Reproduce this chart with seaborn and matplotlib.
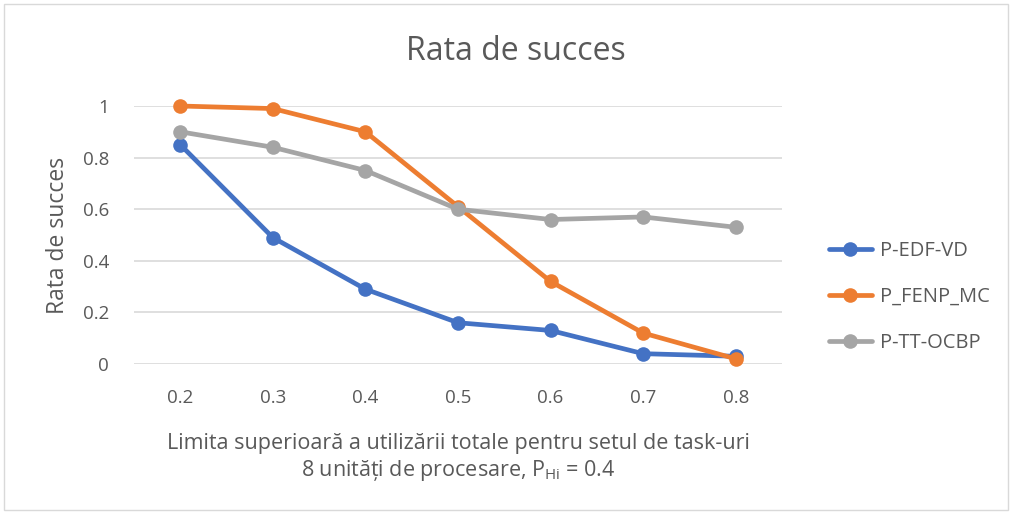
import matplotlib
matplotlib.use("Agg")
import matplotlib.pyplot as plt
import seaborn as sns
import pandas as pd
from matplotlib.patches import Rectangle

categories = ["0.2", "0.3", "0.4", "0.5", "0.6", "0.7", "0.8"]
edf_vd = [0.85, 0.49, 0.29, 0.16, 0.13, 0.04, 0.03]
fenp_mc = [1.00, 0.99, 0.90, 0.61, 0.32, 0.12, 0.02]
tt_ocbp = [0.90, 0.84, 0.75, 0.60, 0.56, 0.57, 0.53]
series_names = ["P-EDF-VD", "P_FENP_MC", "P-TT-OCBP"]
colors = ["#4472C4", "#ED7D31", "#A5A5A5"]

rows = []
for name, vals in zip(series_names, [edf_vd, fenp_mc, tt_ocbp]):
    for i, v in enumerate(vals):
        rows.append({"x": i, "y": v, "serie": name})
df = pd.DataFrame(rows)

sns.set_style("white")
plt.rcParams['font.family'] = ['Open Sans', 'DejaVu Sans']
plt.rcParams['mathtext.fontset'] = 'custom'
plt.rcParams['mathtext.rm'] = 'Open Sans'
plt.rcParams['mathtext.it'] = 'Open Sans'
txt = "#595959"

fig = plt.figure(figsize=(10.12, 5.14), dpi=100)
ax = fig.add_axes([134/1012, 1-364/514, 648/1012, 258/514])

sns.lineplot(data=df, x="x", y="y", hue="serie", hue_order=series_names,
             palette=colors, marker="o", markersize=10.5, linewidth=3.4,
             markeredgewidth=0, ax=ax, legend=True, clip_on=False, zorder=3)

ax.set_xlim(-0.5, 6.5)
ax.set_ylim(0, 1)
ax.set_yticks([0, 0.2, 0.4, 0.6, 0.8, 1.0])
ax.set_yticklabels(["0", "0.2", "0.4", "0.6", "0.8", "1"])
ax.set_xticks(range(len(categories)))
ax.set_xticklabels(categories)
ax.tick_params(axis="both", length=0, labelsize=13.5, colors=txt)
ax.tick_params(axis="y", pad=18)
ax.tick_params(axis="x", pad=18)
ax.yaxis.grid(True, color="#D9D9D9", linewidth=1.2)
ax.set_axisbelow(True)
for s in ax.spines.values():
    s.set_visible(False)

ax.set_ylabel("Rata de succes", fontsize=16.5, color=txt, labelpad=9)
ax.set_xlabel("Limita superioară a utilizării totale pentru setul de task-uri\n8 unități de procesare, P$_{\\mathrm{Hi}}$ = 0.4",
              fontsize=15.5, color=txt, labelpad=19, linespacing=1.2)
fig.text(516/1012, 1-52/514, "Rata de succes", ha="center", va="center",
         fontsize=23, color=txt)

leg = ax.legend(loc="center left", bbox_to_anchor=(1.045, 0.26), frameon=False,
                fontsize=14.5, labelspacing=1.3, handlelength=2.1,
                handletextpad=0.4)
for t in leg.get_texts():
    t.set_color(txt)

fig.patches.append(Rectangle((4/1012, 4/514), 1-8/1012, 1-8/514,
                             transform=fig.transFigure, fill=False,
                             edgecolor="#D9D9D9", linewidth=1))

fig.savefig("out.png", dpi=100)
